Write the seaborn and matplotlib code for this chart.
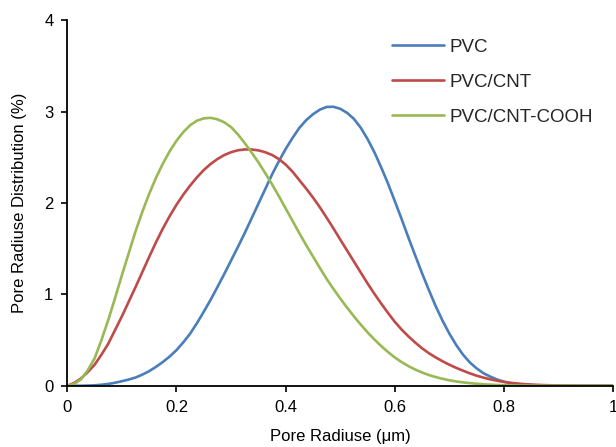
import numpy as np
import pandas as pd
import matplotlib
matplotlib.use("Agg")
import matplotlib.pyplot as plt
import seaborn as sns

radius = [0.0, 0.0125, 0.025, 0.0375, 0.05, 0.0625, 0.075, 0.0875, 0.1, 0.1125,
          0.125, 0.1375, 0.15, 0.1625, 0.175, 0.1875, 0.2, 0.2125, 0.225, 0.2375,
          0.25, 0.2625, 0.275, 0.2875, 0.3, 0.3125, 0.325, 0.3375, 0.35, 0.3625,
          0.375, 0.3875, 0.4, 0.4125, 0.425, 0.4375, 0.45, 0.4625, 0.475, 0.4875,
          0.5, 0.5125, 0.525, 0.5375, 0.55, 0.5625, 0.575, 0.5875, 0.6, 0.6125,
          0.625, 0.6375, 0.65, 0.6625, 0.675, 0.6875, 0.7, 0.7125, 0.725, 0.7375,
          0.75, 0.7625, 0.775, 0.7875, 0.8, 0.8125, 0.825, 0.8375, 0.85, 0.8625,
          0.875, 0.8875, 0.9, 0.9125, 0.925, 0.9375, 0.95, 0.9625, 0.975, 0.9875,
          1.0]

pvc = [0.0, 0.0, 0.0, 0.002, 0.005, 0.011, 0.02, 0.033, 0.05, 0.068,
       0.09, 0.122, 0.16, 0.207, 0.26, 0.32, 0.39, 0.475, 0.57, 0.685,
       0.81, 0.94, 1.08, 1.222, 1.37, 1.518, 1.67, 1.83, 1.99, 2.15,
       2.31, 2.455, 2.59, 2.71, 2.82, 2.905, 2.97, 3.02, 3.05, 3.052,
       3.03, 2.986, 2.92, 2.824, 2.70, 2.556, 2.39, 2.213, 2.02, 1.824,
       1.62, 1.424, 1.23, 1.046, 0.87, 0.712, 0.57, 0.446, 0.34, 0.255,
       0.19, 0.137, 0.10, 0.068, 0.045, 0.028, 0.018, 0.011, 0.007, 0.004,
       0.002, 0.001, 0.0, 0.0, 0.0, 0.0, 0.0, 0.0, 0.0, 0.0,
       0.0]

pvc_cnt = [0.0, 0.03, 0.08, 0.15, 0.23, 0.34, 0.46, 0.61, 0.76, 0.92,
           1.08, 1.245, 1.41, 1.57, 1.72, 1.856, 1.98, 2.091, 2.19, 2.28,
           2.36, 2.426, 2.48, 2.524, 2.555, 2.576, 2.585, 2.585, 2.575, 2.555,
           2.525, 2.48, 2.42, 2.343, 2.25, 2.158, 2.06, 1.954, 1.84, 1.722,
           1.60, 1.48, 1.36, 1.24, 1.12, 1.007, 0.90, 0.797, 0.70, 0.615,
           0.54, 0.472, 0.41, 0.356, 0.31, 0.268, 0.23, 0.196, 0.165, 0.136,
           0.11, 0.089, 0.07, 0.055, 0.042, 0.032, 0.024, 0.018, 0.013, 0.0098,
           0.007, 0.0048, 0.003, 0.0018, 0.001, 0.0005, 0.0, 0.0, 0.0, 0.0,
           0.0]

pvc_cnt_cooh = [0.0, 0.02, 0.07, 0.17, 0.30, 0.50, 0.72, 0.96, 1.21, 1.45,
                1.69, 1.904, 2.10, 2.275, 2.43, 2.565, 2.68, 2.775, 2.85, 2.90,
                2.925, 2.931, 2.915, 2.882, 2.83, 2.75, 2.655, 2.553, 2.445, 2.327,
                2.205, 2.075, 1.94, 1.806, 1.67, 1.54, 1.415, 1.291, 1.17, 1.06,
                0.955, 0.855, 0.76, 0.67, 0.585, 0.507, 0.435, 0.369, 0.31, 0.259,
                0.215, 0.177, 0.145, 0.117, 0.095, 0.076, 0.06, 0.047, 0.037, 0.029,
                0.022, 0.016, 0.012, 0.0085, 0.006, 0.0044, 0.003, 0.0019, 0.001, 0.0005,
                0.0, 0.0, 0.0, 0.0, 0.0, 0.0, 0.0, 0.0, 0.0, 0.0,
                0.0]

series_names = ["PVC", "PVC/CNT", "PVC/CNT-COOH"]
colors = ["#4A7EBB", "#BE4B48", "#98B954"]

df = pd.concat([
    pd.DataFrame({"r": radius, "v": pvc, "s": series_names[0]}),
    pd.DataFrame({"r": radius, "v": pvc_cnt, "s": series_names[1]}),
    pd.DataFrame({"r": radius, "v": pvc_cnt_cooh, "s": series_names[2]}),
])

sns.set_style("ticks")
plt.rcParams["font.family"] = ["Liberation Sans", "DejaVu Sans"]

fig = plt.figure(figsize=(6.16, 4.47), dpi=100)
ax = fig.add_axes([0.1093, 0.137, 0.886, 0.818])

sns.lineplot(data=df, x="r", y="v", hue="s", palette=colors, linewidth=1.9,
             ax=ax, legend=True, sort=False)
for ln in ax.lines:
    ln.set_solid_joinstyle("round")
    ln.set_solid_capstyle("round")

ax.set_xlim(0, 1)
ax.set_ylim(0, 4)
ax.set_xticks([0, 0.2, 0.4, 0.6, 0.8, 1.0])
ax.set_xticklabels(["0", "0.2", "0.4", "0.6", "0.8", "1"])
ax.set_yticks([0, 1, 2, 3, 4])
ax.set_yticklabels(["0", "1", "2", "3", "4"])
ax.tick_params(axis="both", labelsize=12, length=4, width=1.2, color="black",
               labelcolor="black", direction="out", pad=6)
for side in ["top", "right"]:
    ax.spines[side].set_visible(False)
for side in ["left", "bottom"]:
    ax.spines[side].set_linewidth(1.3)
    ax.spines[side].set_color("black")

ax.set_xlabel("Pore Radiuse (μm)", fontsize=12, color="black", labelpad=10)
ax.set_ylabel("Pore Radiuse Distribution (%)", fontsize=12, color="black", labelpad=12)

handles, labels = ax.get_legend_handles_labels()
ax.legend(handles, labels, loc="upper left", bbox_to_anchor=(0.636, 0.914),
          bbox_transform=fig.transFigure, frameon=False, fontsize=13.5,
          handlelength=2.8, handletextpad=0.3, labelspacing=0.96, borderpad=0,
          borderaxespad=0)

fig.savefig("out.png", dpi=100)
